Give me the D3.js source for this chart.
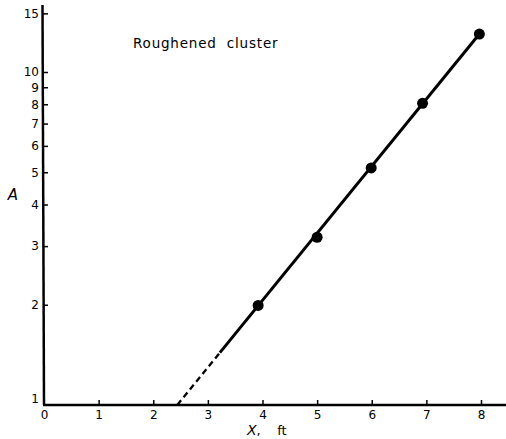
<!DOCTYPE html>
<html>
<head>
<meta charset="utf-8">
<script src="https://cdn.jsdelivr.net/npm/d3@7"></script>
<style>
  html, body { margin: 0; padding: 0; background: #fff; }
  svg { display: block; }
  text { font-family: "DejaVu Sans", sans-serif; fill: #000; }
</style>
</head>
<body>
<script>
// ---- data ----
const pointX = [3.92, 5.0, 5.99, 6.93, 7.97];
const pointA = [1.99, 3.19, 5.15, 8.05, 13.0];
const dashedX = [2.44, 3.22];
const dashedA = [1.0, 1.436];
const solidX = [3.22, 7.97];
const solidA = [1.436, 13.0];
const xTicks = [0, 1, 2, 3, 4, 5, 6, 7, 8];
const yTicks = [1, 2, 3, 4, 5, 6, 7, 8, 9, 10, 15];
const title = "Roughened  cluster";

const W = 506, H = 439;
const svg = d3.select("body").append("svg").attr("width", W).attr("height", H);

const x = d3.scaleLinear().domain([0, 8]).range([44, 481]);
const y = d3.scaleLog().domain([1, 10]).range([405, 72]);

// axis lines
svg.append("line")
  .attr("x1", x(0) - 1).attr("x2", W)
  .attr("y1", y(1)).attr("y2", y(1))
  .attr("stroke", "#000").attr("stroke-width", 2.5);
svg.append("line")
  .attr("x1", x(0)).attr("x2", x(0) - 1.5)
  .attr("y1", y(1)).attr("y2", y(15.9))
  .attr("stroke", "#000").attr("stroke-width", 2.5);

// x axis ticks
const xAxis = d3.axisBottom(x).tickValues(xTicks).tickSizeInner(-5).tickSizeOuter(0).tickPadding(5)
  .tickFormat(d3.format("d"));
const gx = svg.append("g").attr("transform", `translate(0,${y(1)})`).call(xAxis);
gx.select(".domain").remove();
gx.selectAll(".tick line").attr("stroke", "#000").attr("stroke-width", 1.5)
  .filter(d => d === 0).remove();
gx.selectAll(".tick text").style("font-size", "12px").style("font-family", "DejaVu Sans, sans-serif").attr("fill", "#000");

// y axis ticks
const yAxis = d3.axisLeft(y).tickValues(yTicks).tickSizeInner(-5).tickSizeOuter(0).tickPadding(4)
  .tickFormat(d3.format("d"));
const gy = svg.append("g").attr("transform", `translate(${x(0) - 1},0)`).call(yAxis);
gy.select(".domain").remove();
gy.selectAll(".tick line").attr("stroke", "#000").attr("stroke-width", 1.5)
  .filter(d => d === 1).remove();
gy.selectAll(".tick text").style("font-size", "12px").style("font-family", "DejaVu Sans, sans-serif").attr("fill", "#000")
  .attr("dy", d => d === 1 ? "-0.2em" : "0.32em");

// lines
const line = d3.line().x(d => x(d[0])).y(d => y(d[1]));
svg.append("path")
  .datum(d3.zip(dashedX, dashedA))
  .attr("d", line)
  .attr("fill", "none").attr("stroke", "#000").attr("stroke-width", 2.3)
  .attr("stroke-dasharray", "6,4");
svg.append("path")
  .datum(d3.zip(solidX, solidA))
  .attr("d", line)
  .attr("fill", "none").attr("stroke", "#000").attr("stroke-width", 3);

// points
svg.selectAll("circle.pt")
  .data(d3.zip(pointX, pointA))
  .join("circle")
  .attr("class", "pt")
  .attr("cx", d => x(d[0])).attr("cy", d => y(d[1]))
  .attr("r", 5.5).attr("fill", "#000");

// title
svg.append("text")
  .attr("x", 133).attr("y", 48)
  .style("font-size", "13.5px").style("letter-spacing", "0.8px")
  .attr("xml:space", "preserve")
  .text(title);

// axis labels
svg.append("text")
  .attr("x", 13).attr("y", 200)
  .attr("text-anchor", "middle")
  .style("font-size", "15px").style("font-style", "italic")
  .text("A");
svg.append("text")
  .attr("x", 247).attr("y", 435)
  .style("font-size", "13px")
  .attr("xml:space", "preserve")
  .html('<tspan font-style="italic" font-size="14px">X</tspan>,    ft');
</script>
</body>
</html>
